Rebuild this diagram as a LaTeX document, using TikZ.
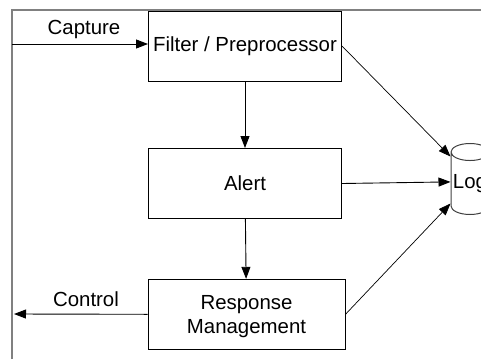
\documentclass[tikz,border=0pt]{standalone}
\usepackage{fontspec}
\setmainfont{Liberation Sans}
\usetikzlibrary{arrows.meta,shapes.geometric}

\begin{document}
\begin{tikzpicture}[x=0.5pt,y=-0.5pt,
  font=\fontsize{10.2pt}{12pt}\selectfont,
  block/.style={draw,line width=0.5pt,minimum width=96.5pt,minimum height=35pt,align=center,inner sep=0pt},
  flow/.style={-{Triangle[length=6pt,width=4.5pt]},line width=0.45pt},
  store/.style={draw=black!75,line width=0.5pt,shape=cylinder,shape border rotate=90,aspect=0.5,minimum width=19pt,minimum height=35.5pt,inner sep=0pt}]
\useasboundingbox (0,0) rectangle (481,359);
\draw[gray,line width=0.8pt] (12,359) -- (12,10) -- (481,10);
\node[block] (filter) at (245,46) {Filter / Preprocessor};
\node[block] (alert) at (245,183.5) {Alert};
\node[block,minimum width=98.5pt] (response) at (246.5,314.3) {\rule{0pt}{9.8pt}Response\\Management};
\node[store] (log) at (470,183.5) {Log};
\coordinate (in) at (12,44);
\coordinate (out) at (14,314);
\node[anchor=base] (capture) at (84,34) {Capture};
\node[anchor=base] (control) at (86,306) {Control};
\draw[flow] (in) -- (filter.west |- in);
\draw[flow] (filter) -- (alert);
\draw[flow] (alert) -- (response);
\draw[flow] (response.west) -- (out);
\draw[flow,line width=0.35pt] (filter.east) -- ([yshift=13.5pt]log.west);
\draw[flow] (alert.east) -- ([yshift=0.8pt]log.west);
\draw[flow,line width=0.35pt] (response.east) -- ([yshift=-10pt]log.west);
\end{tikzpicture}
\end{document}
